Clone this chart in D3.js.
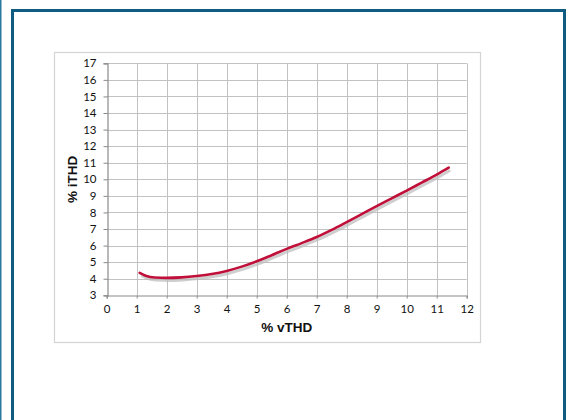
<!DOCTYPE html>
<html>
<head>
<meta charset="utf-8">
<script src="https://cdn.jsdelivr.net/npm/d3@7"></script>
<style>
  html, body { margin: 0; padding: 0; background: #fff; }
  svg { display: block; }
</style>
</head>
<body>
<div id="chart"></div>
<script>
/**
 * CONSTANTS AND DATA
 * */
const width = 566,
  height = 420,
  margin = { top: 63.3, bottom: 124.7, left: 106.7, right: 99.3 };

// % vTHD (x) and % iTHD (y)
const vthd = [1.1, 1.3, 1.6, 2, 2.5, 3, 3.5, 4, 4.5, 5, 5.5, 6, 6.5, 7, 7.5, 8, 8.5, 9, 9.5, 10, 10.5, 11, 11.4];
const ithd = [4.35, 4.18, 4.07, 4.05, 4.08, 4.16, 4.28, 4.47, 4.73, 5.05, 5.42, 5.8, 6.15, 6.52, 6.95, 7.42, 7.9, 8.38, 8.85, 9.32, 9.8, 10.28, 10.7];

const xTicks = d3.range(0, 13);
const yTicks = d3.range(3, 18);

const points = vthd.map((v, i) => ({ x: v, y: ithd[i] }));

/**
 * SVG + FRAMES
 * */
const svg = d3.select("#chart")
  .append("svg")
  .attr("width", width)
  .attr("height", height);

// thin outer line on left edge
svg.append("rect")
  .attr("x", 0).attr("y", 0)
  .attr("width", 1.5).attr("height", height)
  .attr("fill", "#2b7aa0");

// blue page frame (open at bottom)
svg.append("path")
  .attr("d", `M12.5,${height + 5} V10.5 H564.5 V${height + 5}`)
  .attr("fill", "none")
  .attr("stroke", "#0f5b82")
  .attr("stroke-width", 3);

// chart frame
svg.append("rect")
  .attr("x", 54.5).attr("y", 52.5)
  .attr("width", 426).attr("height", 290)
  .attr("fill", "#fff")
  .attr("stroke", "#d4d4d4")
  .attr("stroke-width", 1.2);

/**
 * SCALES
 * */
const x = d3.scaleLinear()
  .domain([0, 12])
  .range([margin.left, width - margin.right]);

const y = d3.scaleLinear()
  .domain([3, 17])
  .range([height - margin.bottom, margin.top]);

/**
 * GRID
 * */
svg.append("g")
  .selectAll("line.vg")
  .data(xTicks.slice(1))
  .join("line")
  .attr("x1", d => Math.round(x(d)) + 0.5)
  .attr("x2", d => Math.round(x(d)) + 0.5)
  .attr("y1", y(17))
  .attr("y2", y(3))
  .attr("stroke", "#c2c2c2")
  .attr("stroke-width", 1);

svg.append("g")
  .selectAll("line.hg")
  .data(yTicks.slice(1))
  .join("line")
  .attr("x1", x(0))
  .attr("x2", x(12))
  .attr("y1", d => Math.round(y(d)) + 0.5)
  .attr("y2", d => Math.round(y(d)) + 0.5)
  .attr("stroke", "#c2c2c2")
  .attr("stroke-width", 1);

/**
 * AXES
 * */
const xAxis = svg.append("g")
  .attr("transform", `translate(0, ${Math.round(y(3)) + 0.5})`)
  .call(d3.axisBottom(x).tickValues(xTicks).tickSize(3).tickPadding(6).tickFormat(d3.format("d")));

const yAxis = svg.append("g")
  .attr("transform", `translate(${Math.round(x(0)) + 0.5}, 0)`)
  .call(d3.axisLeft(y).tickValues(yTicks).tickSize(4).tickPadding(7).tickFormat(d3.format("d")));

[xAxis, yAxis].forEach(a => {
  a.select(".domain").attr("stroke", "#8a8a8a").attr("stroke-width", 1.2);
  a.selectAll(".tick line").attr("stroke", "#8a8a8a");
  a.selectAll(".tick text")
    .attr("fill", "#111")
    .style("font-family", "Lato, 'Open Sans', sans-serif")
    .style("font-size", "11.5px");
});

/**
 * TITLES
 * */
svg.append("text")
  .attr("x", x(6))
  .attr("y", 332)
  .attr("text-anchor", "middle")
  .style("font-family", "'Liberation Sans', Arial, sans-serif")
  .style("font-weight", "bold")
  .style("font-size", "13.5px")
  .attr("fill", "#111")
  .text("% vTHD");

svg.append("text")
  .attr("transform", `translate(77, ${y(10)}) rotate(-90)`)
  .attr("text-anchor", "middle")
  .style("font-family", "'Liberation Sans', Arial, sans-serif")
  .style("font-weight", "bold")
  .style("font-size", "13.5px")
  .attr("fill", "#111")
  .text("% iTHD");

/**
 * CURVE
 * */
const line = d3.line()
  .x(d => x(d.x))
  .y(d => y(d.y))
  .curve(d3.curveMonotoneX);

// soft shadow
svg.append("path")
  .datum(points)
  .attr("d", line)
  .attr("transform", "translate(1.5, 2.5)")
  .attr("fill", "none")
  .attr("stroke", "#bbbbbb")
  .attr("stroke-opacity", 0.7)
  .attr("stroke-width", 3);

svg.append("path")
  .datum(points)
  .attr("d", line)
  .attr("fill", "none")
  .attr("stroke", "#c0103a")
  .attr("stroke-width", 2.6)
  .attr("stroke-linecap", "round");
</script>
</body>
</html>
